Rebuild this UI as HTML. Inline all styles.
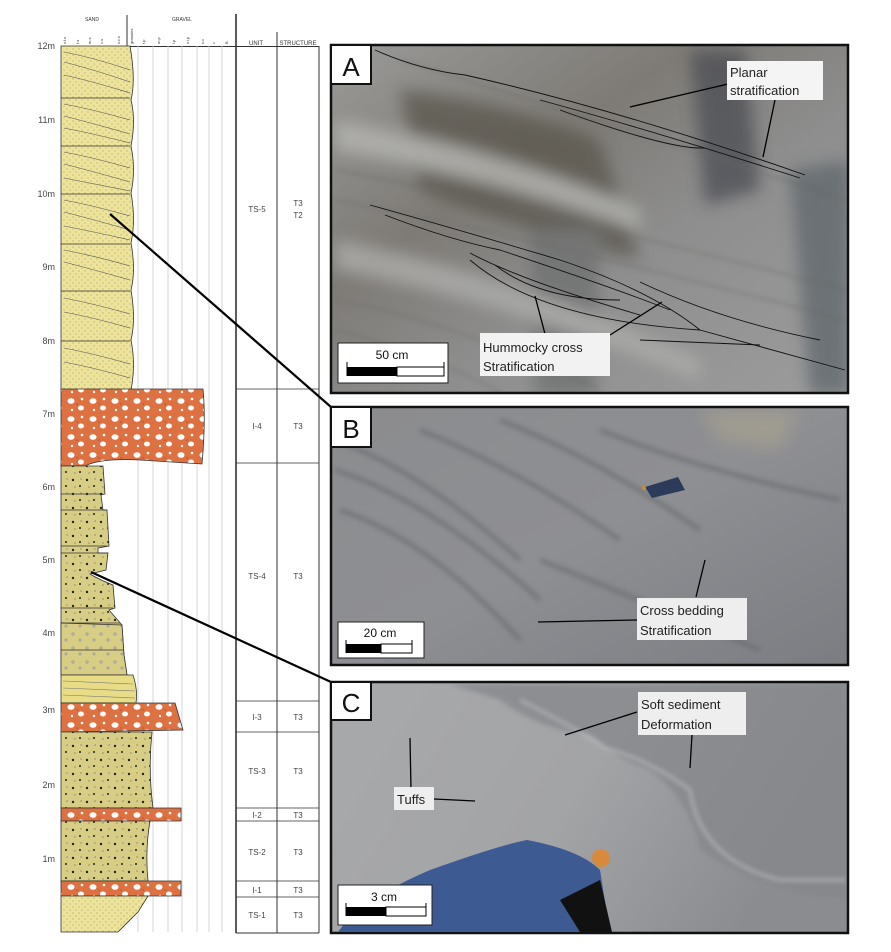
<!DOCTYPE html>
<html><head><meta charset="utf-8"><style>
html,body{margin:0;padding:0;background:#fff}
body{width:891px;height:947px;overflow:hidden;font-family:"Liberation Sans",sans-serif}
</style></head><body>
<svg width="891" height="947" viewBox="0 0 891 947" xmlns="http://www.w3.org/2000/svg" font-family="Liberation Sans, sans-serif">
<defs>
<filter id="bl" x="-20%" y="-20%" width="140%" height="140%"><feGaussianBlur stdDeviation="8"/></filter>
<filter id="bl2" x="-20%" y="-20%" width="140%" height="140%"><feGaussianBlur stdDeviation="2.5"/></filter>
<clipPath id="cA"><rect x="331" y="45" width="517" height="348"/></clipPath>
<clipPath id="cB"><rect x="331" y="407" width="517" height="258"/></clipPath>
<clipPath id="cC"><rect x="331" y="682" width="517" height="251"/></clipPath>
<pattern id="sandx" width="6" height="6" patternUnits="userSpaceOnUse">
<rect width="6" height="6" fill="#eee39a"/><circle cx="1" cy="1" r="0.5" fill="#8a8450"/><circle cx="4" cy="4" r="0.5" fill="#8a8450"/>
</pattern>
<pattern id="olive" width="14" height="14" patternUnits="userSpaceOnUse">
<rect width="14" height="14" fill="#d8cd84"/><circle cx="3" cy="4" r="1.2" fill="#222"/><circle cx="10" cy="10" r="1" fill="#222"/><circle cx="11" cy="3" r="0.6" fill="#666"/><circle cx="5" cy="11" r="0.6" fill="#666"/>
</pattern>
<pattern id="olive2" width="14" height="14" patternUnits="userSpaceOnUse">
<rect width="14" height="14" fill="#d8cd84"/><circle cx="3" cy="4" r="1.3" fill="#bbb" stroke="#777" stroke-width="0.4"/><circle cx="10" cy="10" r="1.2" fill="#bbb" stroke="#777" stroke-width="0.4"/>
</pattern>
<pattern id="cong" width="22" height="18" patternUnits="userSpaceOnUse">
<rect width="22" height="18" fill="#de7142"/><ellipse cx="5" cy="5" rx="3.5" ry="2.8" fill="#fff"/><ellipse cx="15" cy="12" rx="3" ry="2.5" fill="#fff"/><circle cx="16" cy="3" r="1.3" fill="#fff"/><circle cx="6" cy="14" r="1.2" fill="#fff"/><circle cx="11" cy="8" r="0.5" fill="#333"/>
</pattern>
<linearGradient id="ga" x1="0" y1="0" x2="1" y2="1">
<stop offset="0" stop-color="#9a9a98"/><stop offset="0.35" stop-color="#7e7b76"/><stop offset="0.6" stop-color="#8e8e8e"/><stop offset="1" stop-color="#9c9c9c"/>
</linearGradient>
<linearGradient id="gb" x1="0" y1="0" x2="1" y2="1">
<stop offset="0" stop-color="#8b8c8e"/><stop offset="0.5" stop-color="#8e8f93"/><stop offset="1" stop-color="#7b7d82"/>
</linearGradient>
<linearGradient id="gc" x1="0" y1="0" x2="1" y2="0.3">
<stop offset="0" stop-color="#a8a9aa"/><stop offset="0.55" stop-color="#a3a4a6"/><stop offset="1" stop-color="#8a8c90"/>
</linearGradient>
</defs>

<!-- header -->
<g font-size="5" fill="#333">
<text x="92" y="21" text-anchor="middle">SAND</text>
<text x="182" y="21" text-anchor="middle">GRAVEL</text>
<text x="256" y="45" text-anchor="middle" font-size="6">UNIT</text>
<text x="298" y="45" text-anchor="middle" font-size="6">STRUCTURE</text>
</g>
<g font-size="4" fill="#333">
<text transform="translate(66,44) rotate(-90)">v.f.s</text>
<text transform="translate(79,44) rotate(-90)">f.s</text>
<text transform="translate(91,44) rotate(-90)">m.s</text>
<text transform="translate(103,44) rotate(-90)">c.s</text>
<text transform="translate(120,44) rotate(-90)">v.c.s</text>
<text transform="translate(133,44) rotate(-90)">granules</text>
<text transform="translate(145,44) rotate(-90)">f.p</text>
<text transform="translate(160,44) rotate(-90)">m.p</text>
<text transform="translate(175,44) rotate(-90)">l.p</text>
<text transform="translate(189,44) rotate(-90)">v.l.p</text>
<text transform="translate(204,44) rotate(-90)">s.c</text>
<text transform="translate(215,44) rotate(-90)">c</text>
<text transform="translate(228,44) rotate(-90)">B</text>
</g>
<line x1="127" y1="15" x2="127" y2="46" stroke="#333" stroke-width="1"/>
<line x1="61" y1="46.5" x2="319" y2="46.5" stroke="#333" stroke-width="1"/>

<g stroke="#ccc" stroke-width="0.8">
<line x1="138" y1="46" x2="138" y2="932"/><line x1="153" y1="46" x2="153" y2="932"/><line x1="168" y1="46" x2="168" y2="932"/><line x1="182" y1="46" x2="182" y2="932"/><line x1="197" y1="46" x2="197" y2="932"/><line x1="209" y1="46" x2="209" y2="932"/><line x1="222" y1="46" x2="222" y2="932"/>
</g>

<g font-size="9" fill="#444" text-anchor="end">
<text x="55" y="49">12m</text><text x="55" y="123">11m</text><text x="55" y="197">10m</text><text x="55" y="270">9m</text><text x="55" y="344">8m</text><text x="55" y="417">7m</text><text x="55" y="490">6m</text><text x="55" y="563">5m</text><text x="55" y="636">4m</text><text x="55" y="713">3m</text><text x="55" y="788">2m</text><text x="55" y="862">1m</text>
</g>

<g stroke="#333" stroke-width="0.8">
<path d="M61,46 L130,46 Q136,80 131,100 Q136,120 131,146 Q136,170 131,193 Q136,220 131,243 Q136,270 131,290 Q136,320 131,340 Q136,365 131,390 L61,390 Z" fill="url(#sandx)"/>
<line x1="61" y1="98" x2="130" y2="98"/><line x1="61" y1="146" x2="130" y2="146"/><line x1="61" y1="194" x2="130" y2="194"/><line x1="61" y1="244" x2="130" y2="244"/><line x1="61" y1="291" x2="130" y2="291"/><line x1="61" y1="341" x2="130" y2="341"/>
<g fill="none" stroke="#555" stroke-width="0.6">
<path d="M64,52 Q95,58 130,70"/><path d="M64,62 Q95,70 130,82"/><path d="M64,75 Q95,82 130,93"/>
<path d="M64,104 Q95,110 130,120"/><path d="M64,116 Q95,124 130,134"/><path d="M64,128 Q95,134 130,143"/>
<path d="M64,152 Q95,158 130,168"/><path d="M64,164 Q95,172 130,182"/><path d="M64,178 Q95,184 130,191"/>
<path d="M64,200 Q95,206 130,216"/><path d="M64,212 Q95,220 130,230"/><path d="M64,226 Q95,232 130,240"/>
<path d="M64,250 Q95,256 130,266"/><path d="M64,262 Q95,270 130,280"/>
<path d="M64,298 Q95,304 130,314"/><path d="M64,312 Q95,318 130,328"/>
<path d="M64,348 Q95,354 130,364"/><path d="M64,362 Q95,368 130,378"/>
</g>
<path d="M61,389 L203,389 Q206,420 202,464 L140,460 Q100,458 85,466 L61,466 Z" fill="url(#cong)"/>
<path d="M61,466 L103,466 L105,494 L101,495 L103,510 L107,510 L109,546 L98,548 L98,553 L108,553 L106,570 L90,574 Q100,580 113,585 L115,608 L109,610 L122,625 L124,655 L127,675 L61,675 Z" fill="url(#olive)"/>
<path d="M61,623 L122,625 L124,655 L127,675 L61,675 Z" fill="url(#olive2)"/>
<line x1="61" y1="494" x2="103" y2="494"/><line x1="61" y1="510" x2="107" y2="510"/><line x1="61" y1="546" x2="107" y2="546"/><line x1="61" y1="553" x2="108" y2="553"/><line x1="61" y1="608" x2="113" y2="608"/><line x1="61" y1="623" x2="120" y2="623"/><line x1="61" y1="650" x2="124" y2="650"/>
<path d="M61,675 L133,675 Q138,690 136,703 L61,703 Z" fill="#e8dc86"/>
<g stroke="#777" stroke-width="0.6"><line x1="63" y1="681" x2="133" y2="684"/><line x1="63" y1="688" x2="135" y2="691"/><line x1="63" y1="695" x2="135" y2="698"/></g>
<path d="M61,703 L175,703 L183,730 L61,732 Z" fill="url(#cong)"/>
<path d="M61,732 L152,732 Q148,770 153,808 L61,808 Z" fill="url(#olive)"/>
<path d="M61,808 L181,808 L181,821 L61,821 Z" fill="url(#cong)"/>
<path d="M61,821 L150,821 Q145,850 148,881 L61,881 Z" fill="url(#olive)"/>
<path d="M61,881 L181,881 L181,896 L61,896 Z" fill="url(#cong)"/>
<path d="M61,896 L148,896 L138,912 L118,932 L61,932 Z" fill="url(#sandx)"/>
</g>

<g stroke="#333" fill="none">
<line x1="236" y1="14" x2="236" y2="933" stroke-width="1.6"/>
<line x1="277" y1="32" x2="277" y2="933" stroke-width="1"/>
<line x1="319" y1="46" x2="319" y2="933" stroke-width="1"/>
<line x1="236" y1="933" x2="319" y2="933" stroke-width="1"/>
<g stroke-width="0.8">
<line x1="236" y1="389" x2="319" y2="389"/><line x1="236" y1="463" x2="319" y2="463"/><line x1="236" y1="701" x2="319" y2="701"/><line x1="236" y1="732" x2="319" y2="732"/><line x1="236" y1="808" x2="319" y2="808"/><line x1="236" y1="821" x2="319" y2="821"/><line x1="236" y1="881" x2="319" y2="881"/><line x1="236" y1="897" x2="319" y2="897"/>
</g>
</g>
<g font-size="8" fill="#444" text-anchor="middle">
<text x="257" y="212">TS-5</text><text x="298" y="206">T3</text><text x="298" y="218">T2</text>
<text x="257" y="429">I-4</text><text x="298" y="429">T3</text>
<text x="257" y="579">TS-4</text><text x="298" y="579">T3</text>
<text x="257" y="720">I-3</text><text x="298" y="720">T3</text>
<text x="257" y="774">TS-3</text><text x="298" y="774">T3</text>
<text x="257" y="818">I-2</text><text x="298" y="818">T3</text>
<text x="257" y="855">TS-2</text><text x="298" y="855">T3</text>
<text x="257" y="893">I-1</text><text x="298" y="893">T3</text>
<text x="257" y="918">TS-1</text><text x="298" y="918">T3</text>
</g>

<line x1="110" y1="214" x2="331" y2="407" stroke="#000" stroke-width="2.2"/>
<line x1="91" y1="572" x2="331" y2="682" stroke="#000" stroke-width="2.2"/>

<!-- Panel A -->
<rect x="331" y="45" width="517" height="348" fill="url(#ga)"/>
<g clip-path="url(#cA)">
<g filter="url(#bl)" opacity="0.75">
<path d="M400,90 Q500,100 600,140 L640,260 Q520,230 420,190 Z" fill="#5a564d"/>
<path d="M690,50 L745,50 L760,190 L705,205 Z" fill="#4c4e52"/>
<path d="M790,170 L850,160 L850,395 L810,395 Z" fill="#5e666c"/>
<path d="M530,230 L600,230 L595,395 L535,395 Z" fill="#6e7070"/>
<path d="M335,120 Q500,150 640,210 L640,230 Q500,180 335,150 Z" fill="#b8b8b4"/>
<path d="M335,240 Q500,270 700,360 L700,380 Q500,300 335,270 Z" fill="#b0b0ae"/>
</g>
<g fill="none" stroke="#6a6a68" stroke-width="2" opacity="0.5" filter="url(#bl2)">
<path d="M335,170 Q500,200 846,290"/><path d="M335,200 Q500,230 846,320"/><path d="M335,300 Q450,320 600,390"/><path d="M335,330 Q420,350 500,392"/><path d="M400,60 Q600,120 846,200"/>
</g>
</g>
<rect x="331" y="45" width="517" height="348" fill="none" stroke="#111" stroke-width="2.5"/>
<g fill="none" stroke="#111" stroke-width="0.9">
<path d="M375,50 Q420,70 465,75 Q620,110 805,175"/><path d="M540,100 Q650,130 800,178"/><path d="M560,110 Q670,150 705,148"/>
<path d="M370,205 Q460,230 560,260 Q650,290 700,330 L845,370"/><path d="M385,215 Q450,240 500,250 Q620,290 670,310"/><path d="M470,253 Q520,280 640,315"/><path d="M495,265 Q540,300 620,300"/><path d="M470,260 Q540,320 700,330"/><path d="M640,282 Q720,320 820,340"/><path d="M640,340 L760,345"/>
</g>
<g stroke="#000" stroke-width="1.3"><line x1="630" y1="107" x2="728" y2="84"/><line x1="763" y1="157" x2="775" y2="100"/><line x1="535" y1="296" x2="545" y2="334"/><line x1="610" y1="335" x2="662" y2="302"/></g>
<rect x="331" y="45" width="40" height="39" fill="#fff" stroke="#111" stroke-width="2"/>
<text x="351" y="76" font-size="26" text-anchor="middle" fill="#111">A</text>
<rect x="727" y="61" width="96" height="39" fill="#f4f4f4"/>
<text x="730" y="77" font-size="13" fill="#222">Planar</text><text x="730" y="95" font-size="13" fill="#222">stratification</text>
<rect x="480" y="333" width="130" height="43" fill="#f2f2f2"/>
<text x="483" y="352" font-size="13" fill="#222">Hummocky cross</text><text x="483" y="371" font-size="13" fill="#222">Stratification</text>
<rect x="338" y="343" width="110" height="40" fill="#fff" stroke="#222" stroke-width="1"/>
<text x="392" y="359" font-size="12" text-anchor="middle" fill="#111">50 cm</text>
<rect x="347" y="367" width="50" height="9" fill="#000"/><rect x="397" y="367" width="47" height="9" fill="#fff" stroke="#000" stroke-width="1"/>
<line x1="347" y1="362" x2="347" y2="376" stroke="#000"/><line x1="444" y1="362" x2="444" y2="376" stroke="#000"/>

<!-- Panel B -->
<rect x="331" y="407" width="517" height="258" fill="url(#gb)"/>
<g clip-path="url(#cB)">
<g fill="none" stroke="#66686c" stroke-width="5" opacity="0.55" filter="url(#bl2)">
<path d="M335,440 Q420,470 520,560"/><path d="M335,470 Q430,500 540,600"/><path d="M340,510 Q430,540 520,640"/><path d="M420,430 Q520,470 620,540"/><path d="M500,420 Q600,460 700,530"/><path d="M600,430 Q700,470 840,500"/><path d="M540,560 Q640,600 760,650"/>
</g>
<path d="M700,410 L800,410 L780,450 L720,440 Z" fill="#b0a890" opacity="0.5" filter="url(#bl)"/>
</g>
<rect x="331" y="407" width="517" height="258" fill="none" stroke="#111" stroke-width="2.5"/>
<polygon points="645,487 678,477 685,490 652,498" fill="#2d3b5a"/>
<circle cx="644" cy="488" r="2" fill="#d8852b"/>
<line x1="538" y1="622" x2="637" y2="620" stroke="#000" stroke-width="1.3"/>
<line x1="696" y1="597" x2="705" y2="560" stroke="#000" stroke-width="1.3"/>
<rect x="331" y="407" width="40" height="40" fill="#fff" stroke="#111" stroke-width="2"/>
<text x="351" y="438" font-size="26" text-anchor="middle" fill="#111">B</text>
<rect x="637" y="598" width="110" height="42" fill="#eeeeee"/>
<text x="640" y="615" font-size="13" fill="#222">Cross bedding</text><text x="640" y="635" font-size="13" fill="#222">Stratification</text>
<rect x="338" y="622" width="86" height="36" fill="#fff" stroke="#222" stroke-width="1"/>
<text x="380" y="637" font-size="12" text-anchor="middle" fill="#111">20 cm</text>
<rect x="346" y="644" width="35" height="9" fill="#000"/><rect x="381" y="644" width="31" height="9" fill="#fff" stroke="#000" stroke-width="1"/>
<line x1="346" y1="640" x2="346" y2="653" stroke="#000"/><line x1="412" y1="640" x2="412" y2="653" stroke="#000"/>

<!-- Panel C -->
<rect x="331" y="682" width="517" height="251" fill="url(#gc)"/>
<g clip-path="url(#cC)">
<path d="M450,684 L846,684 L846,900 Q760,890 700,850 Q690,800 650,770 Q620,760 590,735 Q540,730 500,700 Z" fill="#85878b" opacity="0.75" filter="url(#bl2)"/>
<path d="M520,700 Q580,730 605,748 Q650,760 690,790 Q700,860 780,880 L846,880" fill="none" stroke="#bfc0c2" stroke-width="2" filter="url(#bl2)"/>
</g>
<rect x="331" y="682" width="517" height="251" fill="none" stroke="#111" stroke-width="2.5"/>
<path d="M338,932 Q360,900 430,870 Q500,845 527,840 Q580,850 600,870 L610,932 Z" fill="#3e5a92"/>
<polygon points="560,900 600,880 612,932 580,932" fill="#111"/>
<circle cx="601" cy="858" r="9" fill="#d78a3c"/>
<line x1="410" y1="738" x2="411" y2="790" stroke="#000" stroke-width="1.3"/>
<line x1="434" y1="799" x2="475" y2="801" stroke="#000" stroke-width="1.3"/>
<line x1="565" y1="735" x2="637" y2="712" stroke="#000" stroke-width="1.3"/>
<line x1="692" y1="735" x2="690" y2="768" stroke="#000" stroke-width="1.3"/>
<rect x="331" y="682" width="40" height="38" fill="#fff" stroke="#111" stroke-width="2"/>
<text x="351" y="712" font-size="26" text-anchor="middle" fill="#111">C</text>
<rect x="638" y="692" width="108" height="43" fill="#eeeeee"/>
<text x="641" y="709" font-size="13" fill="#222">Soft sediment</text><text x="641" y="729" font-size="13" fill="#222">Deformation</text>
<rect x="394" y="787" width="40" height="23" fill="#eeeeee"/>
<text x="397" y="804" font-size="13" fill="#222">Tuffs</text>
<rect x="338" y="885" width="94" height="40" fill="#fff" stroke="#222" stroke-width="1"/>
<text x="384" y="901" font-size="12" text-anchor="middle" fill="#111">3 cm</text>
<rect x="346" y="907" width="40" height="9" fill="#000"/><rect x="386" y="907" width="40" height="9" fill="#fff" stroke="#000" stroke-width="1"/>
<line x1="346" y1="903" x2="346" y2="916" stroke="#000"/><line x1="426" y1="903" x2="426" y2="916" stroke="#000"/>
</svg>
</body></html>
